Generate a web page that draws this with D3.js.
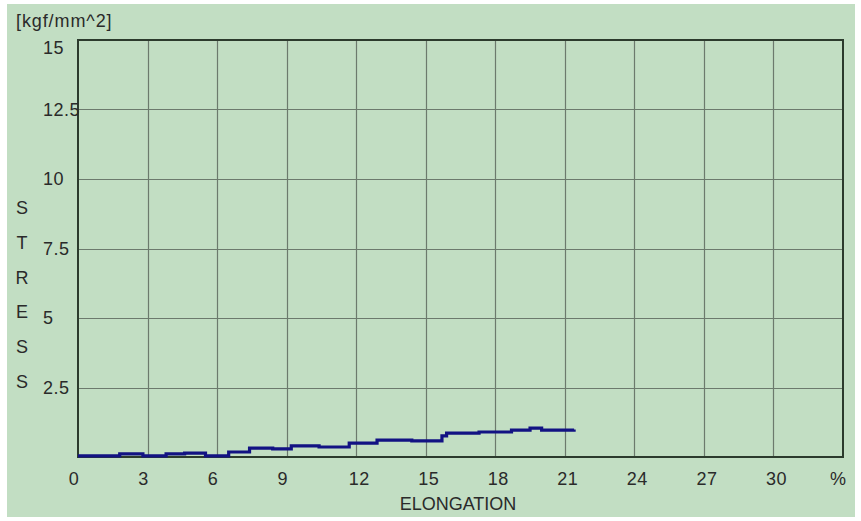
<!DOCTYPE html>
<html>
<head>
<meta charset="utf-8">
<script src="https://cdn.jsdelivr.net/npm/d3@7"></script>
<style>
  html, body { margin: 0; padding: 0; background: #ffffff; }
  svg { display: block; }
  text { font-family: "Liberation Sans", Arial, sans-serif; fill: #2a2a2a; }
</style>
</head>
<body>
<svg id="chart" width="861" height="521"></svg>
<script>
// Tensile test record: stress versus elongation
const elongation = [0, 1.8, 2.8, 3.8, 4.6, 5.5, 6.5, 7.4, 8.4, 9.2, 10.4, 11.7, 12.9, 14.4, 15.7, 15.9, 17.3, 18.7, 19.5, 20.0, 21.4];
const stress     = [0.04, 0.11, 0.04, 0.11, 0.14, 0.04, 0.18, 0.32, 0.29, 0.40, 0.36, 0.50, 0.61, 0.58, 0.76, 0.86, 0.90, 0.97, 1.04, 0.97, 0.99];

const xTicks = [0, 3, 6, 9, 12, 15, 18, 21, 24, 27, 30];
const yTicks = [2.5, 5, 7.5, 10, 12.5, 15];
const yTickLabels = ["2.5", "5", "7.5", "10", "12.5", "15"];
const yTitleLetters = ["S", "T", "R", "E", "S", "S"];

const svg = d3.select("#chart");

// panel background
svg.append("rect")
  .attr("x", 7).attr("y", 4).attr("width", 848).attr("height", 513)
  .attr("fill", "#c2dec3");

const plot = { left: 78, right: 843, top: 40, bottom: 457 };

const x = d3.scaleLinear().domain([0, 33]).range([plot.left, plot.right]);
const y = d3.scaleLinear().domain([0, 15]).range([plot.bottom, plot.top]);

// grid
const grid = svg.append("g").attr("stroke", "#6c7a6d").attr("stroke-width", 1.2);
grid.selectAll("line.v").data(xTicks.filter(d => d > 0))
  .join("line").attr("class", "v")
  .attr("x1", d => Math.round(x(d)) + 0.5).attr("x2", d => Math.round(x(d)) + 0.5)
  .attr("y1", plot.top).attr("y2", plot.bottom);
grid.selectAll("line.h").data(yTicks.filter(d => d < 15))
  .join("line").attr("class", "h")
  .attr("x1", plot.left).attr("x2", plot.right)
  .attr("y1", d => Math.round(y(d)) + 0.5).attr("y2", d => Math.round(y(d)) + 0.5);

// frame
svg.append("rect")
  .attr("x", plot.left).attr("y", plot.top)
  .attr("width", plot.right - plot.left).attr("height", plot.bottom - plot.top)
  .attr("fill", "none").attr("stroke", "#2c3b2d").attr("stroke-width", 2);

// data trace
const pts = elongation.map((e, i) => [e, stress[i]]);
const line = d3.line().x(d => x(d[0])).y(d => y(d[1])).curve(d3.curveStepAfter);
svg.append("path")
  .datum(pts)
  .attr("d", line)
  .attr("fill", "none")
  .attr("stroke", "#121283")
  .attr("stroke-width", 3.2)
  .attr("stroke-linejoin", "miter");

// x tick labels
svg.append("g").selectAll("text").data(xTicks).join("text")
  .attr("x", d => x(d) + (String(d).length === 1 ? -4 : 3))
  .attr("y", 485)
  .attr("text-anchor", "middle")
  .attr("font-size", 18)
  .attr("letter-spacing", 0.5)
  .text(d => d);
svg.append("text")
  .attr("x", 838).attr("y", 485)
  .attr("text-anchor", "middle").attr("font-size", 18)
  .text("%");

// y tick labels
svg.append("g").selectAll("text").data(yTicks).join("text")
  .attr("x", 43)
  .attr("y", d => d === 15 ? 54 : y(d) + 6)
  .attr("text-anchor", "start")
  .attr("font-size", 18)
  .attr("letter-spacing", 0.5)
  .text((d, i) => yTickLabels[i]);

// axis titles
svg.append("text")
  .attr("x", 16).attr("y", 27)
  .attr("font-size", 18)
  .attr("letter-spacing", 0.9)
  .text("[kgf/mm^2]");

svg.append("g").selectAll("text").data(yTitleLetters).join("text")
  .attr("x", 22)
  .attr("y", (d, i) => 214 + i * 34.8)
  .attr("text-anchor", "middle")
  .attr("font-size", 18)
  .text(d => d);

svg.append("text")
  .attr("x", 458).attr("y", 510)
  .attr("text-anchor", "middle")
  .attr("font-size", 18)
  .text("ELONGATION");
</script>
</body>
</html>
